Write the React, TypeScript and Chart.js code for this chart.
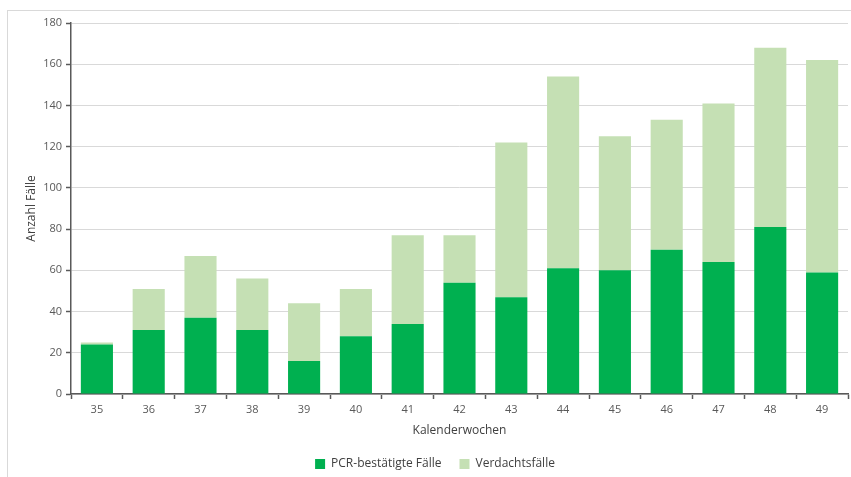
import React, { useEffect, useRef } from "react";
import { Chart, registerables } from "chart.js";

Chart.register(...registerables);

const weeks = ["35", "36", "37", "38", "39", "40", "41", "42", "43", "44", "45", "46", "47", "48", "49"];
const pcrCases = [24, 31, 37, 31, 16, 28, 34, 54, 47, 61, 60, 70, 64, 81, 59];
const suspectedCases = [1, 20, 30, 25, 28, 23, 43, 23, 75, 93, 65, 63, 77, 87, 103];
const yMax = 180;
const yStep = 20;

const FONT = "'Open Sans', 'Noto Sans', sans-serif";

export default function App() {
  const canvasRef = useRef<HTMLCanvasElement | null>(null);

  useEffect(() => {
    if (!canvasRef.current) return;
    const chart = new Chart(canvasRef.current, {
      type: "bar",
      data: {
        labels: weeks,
        datasets: [
          {
            label: "PCR-bestätigte Fälle",
            data: pcrCases,
            backgroundColor: "#00B050",
            borderWidth: 0,
            barPercentage: 0.62,
            categoryPercentage: 1,
          },
          {
            label: "Verdachtsfälle",
            data: suspectedCases,
            backgroundColor: "#C5E0B4",
            borderWidth: 0,
            barPercentage: 0.62,
            categoryPercentage: 1,
          },
        ],
      },
      options: {
        animation: false,
        responsive: false,
        devicePixelRatio: 1,
        layout: { padding: { top: 23, right: 3, left: 22, bottom: 0 } },
        plugins: {
          legend: {
            position: "bottom",
            labels: {
              boxWidth: 10,
              boxHeight: 10,
              padding: 18,
              color: "#404040",
              font: { family: FONT, size: 12 },
            },
          },
          tooltip: { enabled: false },
        },
        scales: {
          x: {
            stacked: true,
            afterFit: (scale: any) => {
              scale.height = 46;
            },
            grid: {
              display: true,
              drawOnChartArea: false,
              offset: true,
              tickLength: 5,
              tickColor: "#595959",
              tickWidth: 1.5,
            },
            border: { color: "#595959", width: 1.5 },
            ticks: {
              color: "#595959",
              padding: 4,
              font: { family: FONT, size: 11 },
              maxRotation: 0,
            },
            title: {
              display: true,
              text: "Kalenderwochen",
              color: "#404040",
              font: { family: FONT, size: 12 },
              padding: { top: 4, bottom: 2 },
            },
          },
          y: {
            stacked: true,
            min: 0,
            max: yMax,
            afterFit: (scale: any) => {
              scale.width = 49;
            },
            grid: {
              color: "#d9d9d9",
              lineWidth: 1,
              tickLength: 5,
              tickColor: "#595959",
              tickWidth: 1.5,
            },
            border: { color: "#595959", width: 1.5 },
            ticks: {
              stepSize: yStep,
              color: "#595959",
              padding: 4,
              font: { family: FONT, size: 11 },
            },
            title: {
              display: true,
              text: "Anzahl Fälle",
              color: "#404040",
              font: { family: FONT, size: 12 },
              padding: { top: 2, bottom: 0 },
            },
          },
        },
      },
    });
    return () => chart.destroy();
  }, []);

  return (
    <div style={{ position: "fixed", left: 0, top: 0, width: 851, height: 477, overflow: "hidden", background: "#ffffff" }}>
      <div
        style={{
          position: "absolute",
          left: 7,
          top: 10,
          width: 860,
          height: 480,
          borderLeft: "1px solid #d9d9d9",
          borderTop: "1px solid #d9d9d9",
        }}
      />
      <canvas
        ref={canvasRef}
        width={851}
        height={480}
        style={{ position: "absolute", left: 0, top: 0, width: 851, height: 480 }}
      />
    </div>
  );
}
